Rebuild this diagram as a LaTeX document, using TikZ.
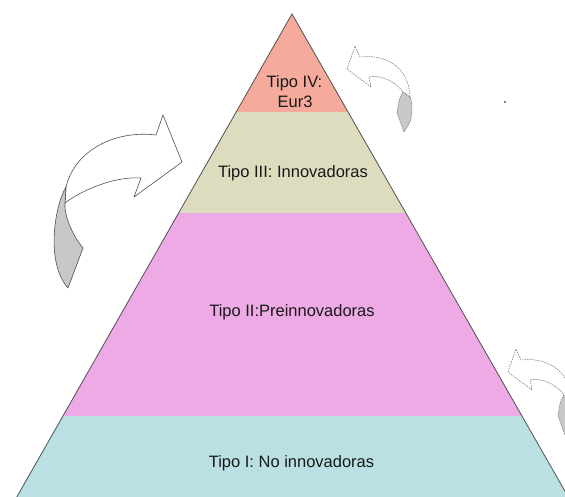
\documentclass[tikz,border=0pt]{standalone}
\usepackage{fontspec}
\setmainfont{Liberation Sans}
\definecolor{bandIV}{RGB}{245,170,156}
\definecolor{bandIII}{RGB}{222,220,190}
\definecolor{bandII}{RGB}{238,170,228}
\definecolor{bandI}{RGB}{186,224,228}
\definecolor{edgec}{RGB}{80,80,80}
\definecolor{textc}{RGB}{25,25,25}
\definecolor{ribbon}{RGB}{200,200,200}
\tikzset{
  lbl/.style={anchor=base, inner sep=0pt, text=textc, font=\fontsize{16.5}{18}\selectfont},
  solidarrow/.style={draw=edgec, line width=0.6pt, line join=round},
  dasharrow/.style={draw=edgec!80, line width=0.5pt, dash pattern=on 1.6pt off 0.9pt, line join=round},
  smallcurv/.pic={
    \path[dasharrow, fill=white] (0,0) -- (8,-23) -- (13,-12)
      .. controls (36,-15) and (62,-4) .. (63,28)
      -- (56,23)
      .. controls (50,14) and (34,5) .. (22,8)
      -- (24,18) -- cycle;
    \path[dasharrow, fill=ribbon] (56,23) .. controls (52,30) .. (50,44)
      -- (57,63) .. controls (64,52) .. (65,41)
      .. controls (65,34) .. (63,28) -- cycle;
  }
}
\begin{document}
\begin{tikzpicture}[x=1pt, y=-1pt]
\useasboundingbox (0,0) rectangle (565,497);
\clip (0,0) rectangle (565,497);
% pyramid
\coordinate (apex) at (292,14);
\coordinate (bl) at (16.8,497);
\coordinate (br) at (568.3,497);
\begin{scope}
  \clip (apex) -- (br) -- (bl) -- cycle;
  \fill[bandIV] (0,0) rectangle (565,112);
  \fill[bandIII] (0,112) rectangle (565,213);
  \fill[bandII] (0,213) rectangle (565,416);
  \fill[bandI] (0,416) rectangle (565,497);
\end{scope}
\draw[edgec, line width=0.8pt] (bl) -- (apex) -- (br);
% labels
\node[lbl] (t4a) at (294.5,87.5) {Tipo IV:};
\node[lbl] (t4b) at (295,107.5) {Eur3};
\node[lbl] (t3) at (293,177.7) {Tipo III: Innovadoras};
\node[lbl] (t2) at (292,316.7) {Tipo II:Preinnovadoras};
\node[lbl] (t1) at (291.5,467.3) {Tipo I: No innovadoras};
% big left arrow
\path[solidarrow, fill=white] (182,162) -- (163,115) -- (156,135)
  .. controls (115,130) and (75,150) .. (66,187)
  -- (65,203)
  .. controls (82,190) and (115,176) .. (141,178)
  -- (134,197) -- cycle;
\path[solidarrow, fill=ribbon] (66,187)
  .. controls (55,205) and (45,262) .. (68,288)
  -- (83,248)
  .. controls (72,235) and (64,215) .. (65,203) -- cycle;
% small dashed arrows
\pic (arrowtop) at (347,69) {smallcurv};
\pic (arrowbottom) at (508,372) {smallcurv};
% speck
\fill[gray] (504,101) rectangle (506,103);
\end{tikzpicture}
\end{document}
